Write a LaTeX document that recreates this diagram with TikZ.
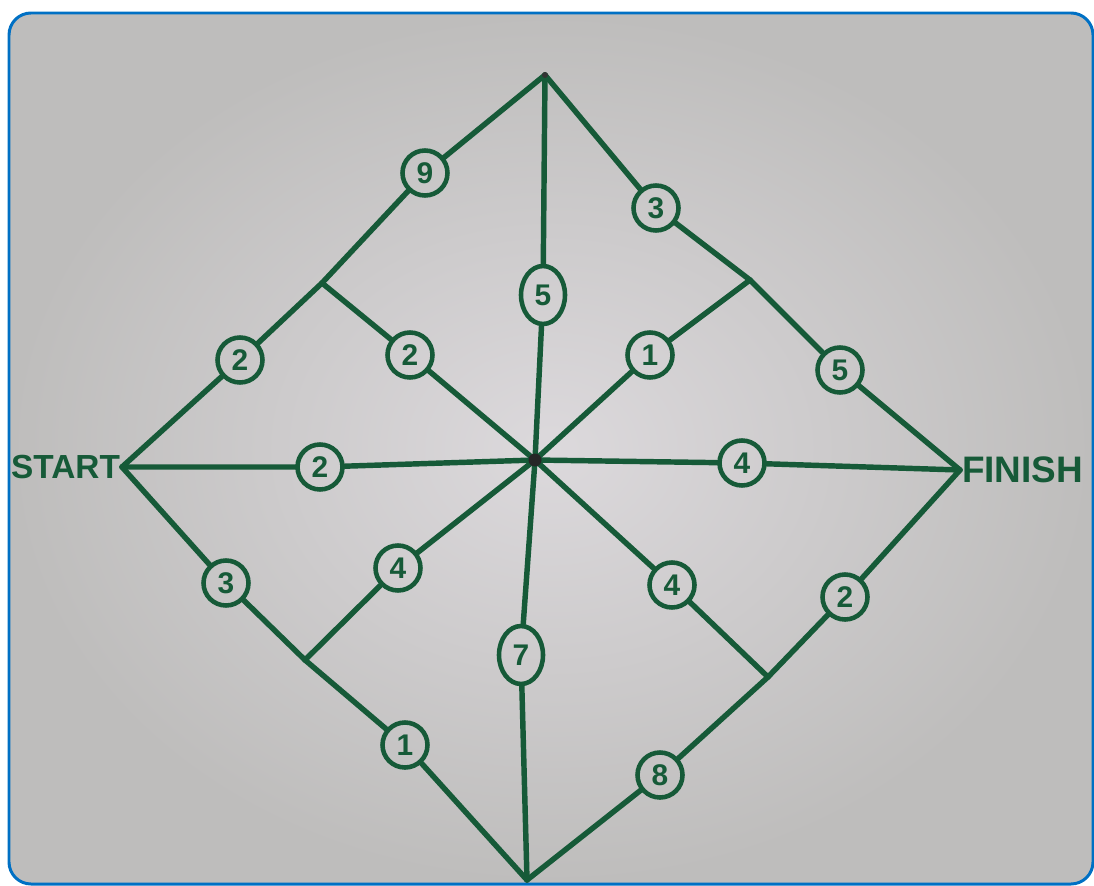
\documentclass[tikz,border=0pt]{standalone}
\usepackage{fontspec}
\setmainfont{Liberation Sans}
\usetikzlibrary{shapes.geometric}
\definecolor{ink}{RGB}{22,90,56}
\definecolor{frameblue}{RGB}{0,112,196}
\definecolor{paperin}{RGB}{220,217,220}
\definecolor{paperout}{RGB}{190,189,188}
\tikzset{
  edge/.style={ink, line width=3.1pt, line cap=round, line join=round},
  lab/.style={circle, draw=ink, line width=2.6pt, minimum size=0.9cm, inner sep=0pt,
              text=ink, font=\fontsize{17}{17}\selectfont\bfseries},
  labtall/.style={lab, ellipse, minimum width=0.88cm, minimum height=1.16cm},
  endtext/.style={text=ink, font=\fontsize{19}{24}\selectfont\bfseries, inner sep=1pt},
}
\begin{document}
\begin{tikzpicture}[x=0.02cm,y=-0.02cm]
\useasboundingbox (0,0) rectangle (1094,885);
\fill[inner color=paperin, outer color=paperout, rounded corners=0.44cm] (9,13) rectangle (1093,884);
\draw[frameblue, line width=1.7pt, rounded corners=0.44cm] (9,13) rectangle (1093,884);

% vertices
\coordinate (S) at (122,467);
\coordinate (T) at (545,75);
\coordinate (C) at (535,460);
\coordinate (F) at (960,470);
\coordinate (B) at (527,880);
\coordinate (UL) at (322,283);
\coordinate (UR) at (750,280);
\coordinate (LL) at (305,660);
\coordinate (LR) at (768,677);

% labels
\node[lab] (a1) at (240,360) {2};
\node[lab] (a2) at (425,173) {9};
\node[lab] (a3) at (410,355) {2};
\node[labtall] (a4) at (543,295) {5};
\node[lab] (a5) at (656,208) {3};
\node[lab] (a6) at (650,355) {1};
\node[lab] (a7) at (840,370) {5};
\node[lab] (a8) at (320,467) {2};
\node[lab] (a9) at (742,463) {4};
\node[lab] (a10) at (226,583) {3};
\node[lab] (a11) at (398,568) {4};
\node[lab] (a12) at (405,745) {1};
\node[labtall] (a13) at (521,655) {7};
\node[lab] (a14) at (672,585) {4};
\node[lab] (a15) at (845,597) {2};
\node[lab] (a16) at (660,775) {8};

% edges
\draw[edge] (S) -- (a1) -- (UL);
\draw[edge] (UL) -- (a2) -- (T);
\draw[edge] (UL) -- (a3) -- (C);
\draw[edge] (T) -- (a4) -- (C);
\draw[edge] (T) -- (a5) -- (UR);
\draw[edge] (UR) -- (a6) -- (C);
\draw[edge] (UR) -- (a7) -- (F);
\draw[edge] (S) -- (a8) -- (C);
\draw[edge] (C) -- (a9) -- (F);
\draw[edge] (S) -- (a10) -- (LL);
\draw[edge] (LL) -- (a11) -- (C);
\draw[edge] (LL) -- (a12) -- (B);
\draw[edge] (C) -- (a13) -- (B);
\draw[edge] (C) -- (a14) -- (LR);
\draw[edge] (LR) -- (a15) -- (F);
\draw[edge] (LR) -- (a16) -- (B);

\fill[black!85] (C) circle (0.13cm);
\fill[black!80] (T) circle (0.06cm);

\node[endtext, anchor=east] (start) at (S) {START};
\node[endtext, anchor=west, font=\fontsize{21}{24}\selectfont\bfseries] (finish) at (F) {FINISH};
\end{tikzpicture}
\end{document}
